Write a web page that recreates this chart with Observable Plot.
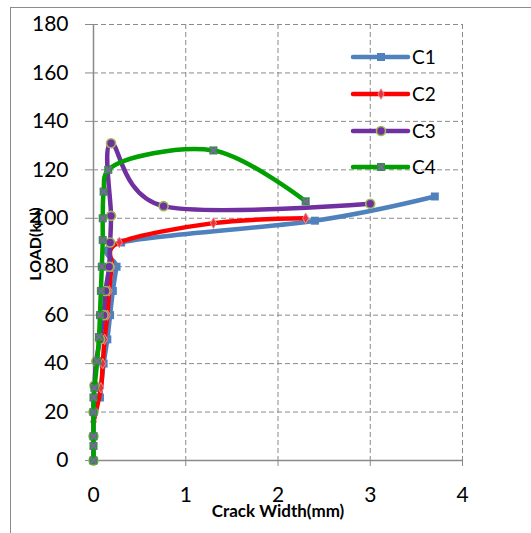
<!DOCTYPE html>
<html><head><meta charset="utf-8">
<script src="https://cdn.jsdelivr.net/npm/d3@7"></script>
<script src="https://cdn.jsdelivr.net/npm/@observablehq/plot@0.6"></script>
<style>
body{margin:0;background:#fff;}
#wrap{position:relative;width:531px;height:533px;overflow:hidden;font-family:Lato,"Open Sans",sans-serif;}
#frame{position:absolute;left:10px;top:7px;width:560px;height:560px;border-left:1px solid #8c8c8c;border-top:1px solid #8c8c8c;}
#chart{position:absolute;left:0;top:0;}
.atitle{position:absolute;font-weight:bold;color:#000;white-space:nowrap;}
#legend{position:absolute;left:0;top:0;}
.lg{position:absolute;font-size:19px;color:#000;line-height:20px;}
</style></head><body>
<div id="wrap"><div id="frame"></div><div id="chart"></div><div id="legend"></div></div>
<script>
const series = ["C1", "C2", "C3", "C4"];
const colors = ["#4F81BD", "#FF0000", "#7030A0", "#00A000"];

const c1X = [0.07, 0.11, 0.15, 0.18, 0.21, 0.25, 0.30, 2.40, 3.70];
const c1Y = [26, 40, 50, 60, 70, 80, 90, 99, 109];

const c2X = [0.00, 0.08, 0.10, 0.12, 0.15, 0.17, 0.20, 0.28, 1.30, 2.30];
const c2Y = [16, 30, 40, 50, 60, 70, 80, 90, 98, 100];

const c3X = [0.00, 0.00, 0.00, 0.01, 0.03, 0.07, 0.11, 0.13, 0.17, 0.18, 0.19, 0.19, 0.76, 3.00];
const c3Y = [0, 10, 20, 31, 41, 50, 60, 70, 80, 90, 101, 131, 105, 106];

const c4X = [0.00, 0.00, 0.00, 0.00, 0.00, 0.01, 0.04, 0.06, 0.07, 0.08, 0.09, 0.10, 0.10, 0.11, 0.16, 1.30, 2.30];
const c4Y = [0, 6, 10, 20, 26, 30, 41, 51, 60, 70, 80, 91, 100, 111, 120, 128, 107];

const xTicks = [0, 1, 2, 3, 4];
const yTicks = [0, 20, 40, 60, 80, 100, 120, 140, 160, 180];
const xTitle = "Crack Width(mm)";
const yTitle = "LOAD(kN)";

const mk = (s, xs, ys) => xs.map((x, i) => ({s, x, y: ys[i]}));
const d1 = mk("C1", c1X, c1Y), d2 = mk("C2", c2X, c2Y), d3s = mk("C3", c3X, c3Y), d4 = mk("C4", c4X, c4Y);

const lineOpts = {x: "x", y: "y", stroke: "s", strokeWidth: 4.5, curve: "cardinal", strokeLinecap: "round", strokeLinejoin: "round"};

const chart = Plot.plot({
  width: 531, height: 533,
  marginLeft: 93, marginRight: 69, marginTop: 24, marginBottom: 73,
  style: {fontFamily: "Lato, 'Open Sans', sans-serif", color: "#000", background: "transparent"},
  x: {domain: [0, 4]},
  y: {domain: [0, 180]},
  color: {domain: series, range: colors},
  marks: [
    Plot.ruleY(yTicks.filter(d => d > 0), {stroke: "#8a8a8a", strokeDasharray: "5,3", strokeWidth: 1}),
    Plot.ruleX(xTicks.filter(d => d > 0), {stroke: "#8a8a8a", strokeDasharray: "5,3", strokeWidth: 1}),
    Plot.ruleX([0], {stroke: "#8a8a8a", strokeWidth: 1.5}),
    Plot.ruleY([0], {stroke: "#8a8a8a", strokeWidth: 1.5}),
    Plot.axisY(yTicks, {tickSize: 8, tickPadding: 17, fontSize: 21, stroke: "#8a8a8a", fill: "#000", label: null}),
    Plot.axisX(xTicks, {tickSize: 6, tickPadding: 21, fontSize: 21, stroke: "#8a8a8a", fill: "#000", label: null}),
    Plot.line(d1, lineOpts),
    Plot.dot(d1, {x: "x", y: "y", symbol: "square", r: 4.5, fill: colors[0]}),
    Plot.line(d2, lineOpts),
    Plot.dot(d2, {x: "x", y: "y", symbol: "diamond", r: 3.2, fill: "#e8323c", stroke: "#f4888e", strokeWidth: 1}),
    Plot.line(d3s, lineOpts),
    Plot.dot(d3s, {x: "x", y: "y", symbol: "circle", r: 4.5, fill: colors[2], stroke: "#9BBB59", strokeWidth: 1.6}),
    Plot.line(d4, {...lineOpts, curve: "catmull-rom"}),
    Plot.dot(d4, {x: "x", y: "y", symbol: "square", r: 4.5, fill: "#1a9a2a"}),
    Plot.dot(d4, {x: "x", y: "y", symbol: "times", r: 3.2, stroke: "#8064A2", strokeWidth: 2})
  ]
});
document.getElementById("chart").appendChild(chart);

// axis titles
const wrap = document.getElementById("wrap");
const xt = document.createElement("div");
xt.className = "atitle"; xt.textContent = xTitle;
xt.style.fontSize = "17px";
xt.style.left = "278px"; xt.style.top = "510px";
xt.style.transform = "translate(-50%,-50%)";
wrap.appendChild(xt);
const yt = document.createElement("div");
yt.className = "atitle"; yt.textContent = yTitle;
yt.style.fontSize = "16px";
yt.style.left = "34px"; yt.style.top = "244px";
yt.style.transform = "translate(-50%,-50%) rotate(-90deg)";
wrap.appendChild(yt);

// legend
const legend = d3.select("#legend");
const legTop = [57, 94, 131, 167];
series.forEach((s, i) => {
  const svg = legend.append("svg").attr("width", 64).attr("height", 20)
    .style("position", "absolute").style("left", "349px").style("top", (legTop[i] - 10) + "px");
  svg.append("line").attr("x1", 4).attr("x2", 59).attr("y1", 10).attr("y2", 10)
    .attr("stroke", colors[i]).attr("stroke-width", 4.5).attr("stroke-linecap", "round");
  const g = svg.append("g").attr("transform", "translate(32,10)");
  const area = r => Math.PI * r * r;
  if (s === "C1") g.append("path").attr("d", d3.symbol(d3.symbolSquare, area(4.5))()).attr("fill", colors[0]);
  if (s === "C2") g.append("path").attr("d", d3.symbol(d3.symbolDiamond, area(3.2))()).attr("fill", "#e8323c").attr("stroke", "#f4888e");
  if (s === "C3") g.append("path").attr("d", d3.symbol(d3.symbolCircle, area(4.5))()).attr("fill", colors[2]).attr("stroke", "#9BBB59").attr("stroke-width", 1.6);
  if (s === "C4") {
    g.append("path").attr("d", d3.symbol(d3.symbolSquare, area(4.5))()).attr("fill", "#1a9a2a");
    g.append("path").attr("d", d3.symbol(d3.symbolTimes, area(3.2))()).attr("fill", "none").attr("stroke", "#8064A2").attr("stroke-width", 2);
  }
  legend.append("div").attr("class", "lg").style("left", "412px").style("top", (legTop[i] - 10) + "px").text(s);
});
</script>
</body></html>
